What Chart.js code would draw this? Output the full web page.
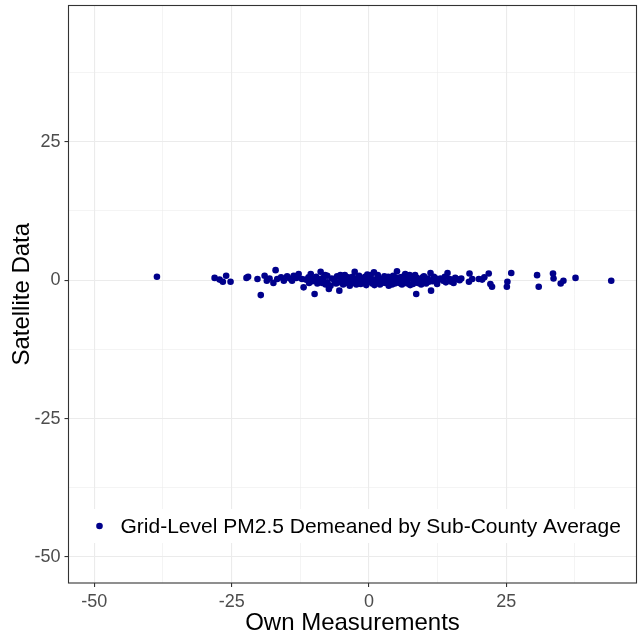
<!DOCTYPE html>
<html>
<head>
<meta charset="utf-8">
<script src="https://cdn.jsdelivr.net/npm/chart.js@4.4.1/dist/chart.umd.min.js"></script>
<style>
  html, body { margin: 0; padding: 0; background: #ffffff; }
  #wrap { width: 642px; height: 640px; }
</style>
</head>
<body>
<div id="wrap"><canvas id="scatterChart" width="642" height="640"></canvas></div>
<script>
// Own measurements (x) and satellite data (y), both demeaned
const ownMeasurements = [
  -38.6, -28.1, -27.2, -26.6, -26.0, -25.2, -22.3, -22.0, -20.3, -19.7,
  -19.0, -18.6, -18.1, -17.4, -17.0, -16.7, -16.0, -15.5, -14.9, -14.4,
  -14.0, -13.7, -12.8, -13.2, -11.9, -11.5, -10.9, -10.6, -10.1, -9.9,
  -9.6, -9.2, -8.8, -8.8, -8.5, -8.0, -7.6, -7.6, -7.3, -7.0,
  -6.8, -6.4, -6.0, -5.8, -5.5, -5.4, -5.0, -4.7, -4.4, -4.1,
  -3.8, -3.5, -3.2, -2.9, -2.6, -2.4, -2.1, -1.8, -1.5, -1.3,
  -1.0, -0.7, -0.5, -0.2, 0.1, 0.3, 0.6, 0.9, 1.1, 1.4,
  1.7, 2.0, 2.2, 2.5, 2.8, 3.0, 3.3, 3.6, 3.9, 4.1,
  4.4, 4.7, 5.0, 5.1, 5.4, 5.7, 6.0, 6.3, 6.6, 6.9,
  7.2, 7.5, 7.8, 8.1, 8.4, 8.6, 8.9, 9.2, 9.5, 9.8,
  10.1, 10.4, 10.7, 11.2, 11.3, 11.6, 12.0, 12.4, 13.0, 13.5,
  14.3, 14.7, 15.0, 15.4, 15.7, 16.0, 16.5, 18.3, 18.2, 18.8,
  20.0, 20.6, 21.0, 21.8, 22.1, 22.4, 25.1, 25.2, 25.9, 30.6,
  30.9, 33.5, 33.6, 34.9, 35.4, 37.6, 44.1,
  -6.2, -5.2, -4.5, -3.9, -3.0, -2.3, -1.6, -0.9, -0.3, 0.4,
  1.0, 1.6, 2.3, 2.9, 3.5, 4.2, 4.8, 5.5, 6.1, 6.7,
  7.4, 8.0, 8.7, 9.3, 10.0, 10.9, 11.8, 12.6, 7.0, 3.8,
  -0.6, -2.7, 1.9, 5.9, 9.0, -12.2, -11.0, -10.3, -9.4, -8.3,
  -7.9, 13.8, 14.0, 16.8
];
const satelliteData = [
  0.6, 0.4, 0.1, -0.3, 0.8, -0.3, 0.4, 0.6, 0.2, -2.7,
  0.8, -0.1, 0.3, -0.5, 1.8, 0.2, 0.5, -0.1, 0.7, 0.3,
  -0.1, 0.8, 1.1, 0.4, -1.3, 0.1, -0.5, 1.1, 0.2, -2.5,
  0.6, -0.2, 1.5, 0.2, -0.5, 0.9, -0.4, 0.8, -1.6, -1.0,
  0.3, 0.2, -0.6, 0.7, -0.4, -1.9, 0.3, -0.8, 0.9, -0.2,
  0.5, -1.0, 0.1, -0.5, 1.5, 0.3, -0.3, 0.8, -0.7, 0.2,
  -0.1, 0.6, -0.9, 0.3, -0.3, 0.9, -0.6, 1.4, 0.1, -0.4,
  0.5, -0.8, 0.2, -0.2, 0.7, -0.5, 0.1, -1.0, 0.4, -0.3,
  0.8, -0.6, 0.2, 1.6, -0.2, 0.5, -0.8, 0.1, 1.1, -0.4,
  0.3, -0.9, 0.6, -0.2, 0.9, -2.5, -0.5, 0.2, -0.8, 0.5,
  -0.1, -0.6, 0.3, 1.3, -1.9, -0.2, 0.4, -0.7, 0.3, -0.1,
  1.3, 0.2, -0.3, -0.5, 0.4, 0.2, 0.0, 1.2, -0.3, 0.2,
  0.2, 0.1, 0.5, 1.2, -0.7, -1.2, -1.2, -0.3, 1.3, 0.9,
  -1.2, 1.2, 0.3, -0.6, -0.1, 0.4, -0.1,
  -0.2, 0.9, -0.1, -0.5, 0.6, -0.8, 0.4, -0.3, 1.0, 0.2,
  -0.9, 0.9, -0.5, 0.3, 0.6, -0.8, 0.5, -0.5, 0.6, -0.1,
  0.9, -0.7, 0.4, -0.3, 0.7, -0.3, 0.6, 0.1, -0.6, -0.2,
  0.0, -0.1, 0.0, 0.0, 0.0, 0.2, 0.5, -0.2, -0.6, 0.4,
  -0.8, 0.6, -0.4, 0.3
];

const majorTicks = [-50, -25, 0, 25];
const minorTicks = [-37.5, -12.5, 12.5, 37.5];
const xRange = [-54.7, 48.7];
const yRange = [-54.7, 49.6];

const seriesLabel = 'Grid-Level PM2.5 Demeaned by Sub-County Average';
const xTitle = 'Own Measurements';
const yTitle = 'Satellite Data';

const pointColor = '#00008B';
const fontFamily = '"Liberation Sans", Arial, Helvetica, sans-serif';

const points = ownMeasurements.map((x, i) => ({ x: x, y: satelliteData[i] }));

function isMajor(v) {
  return majorTicks.indexOf(v) !== -1;
}

function setTicks(scale) {
  scale.ticks = majorTicks.concat(minorTicks)
    .sort((a, b) => a - b)
    .map(v => ({ value: v }));
}

function axisOptions(range, title, isX) {
  return {
    type: 'linear',
    min: range[0],
    max: range[1],
    afterBuildTicks: setTicks,
    afterFit: function(scale) {
      // fixed axis sizes, no extra padding for edge labels
      if (isX) scale.height = 57;
      else scale.width = 68.5;
      scale.paddingTop = 0;
      scale.paddingBottom = 0;
      scale.paddingLeft = 0;
      scale.paddingRight = 0;
    },
    grid: {
      color: '#ebebeb',
      lineWidth: ctx => isMajor(ctx.tick.value) ? 1.1 : 0.55,
      tickColor: ctx => isMajor(ctx.tick.value) ? '#333333' : 'rgba(0,0,0,0)',
      tickLength: 4,
      tickWidth: 1.1
    },
    border: { display: false },
    ticks: {
      autoSkip: false,
      maxRotation: 0,
      padding: 4,
      color: '#4d4d4d',
      font: { family: fontFamily, size: 18 },
      callback: v => isMajor(v) ? String(v) : ''
    },
    title: {
      display: true,
      text: title,
      color: '#000000',
      font: { family: fontFamily, size: 24 },
      padding: isX ? { top: 0, bottom: 2 } : { top: 8, bottom: 0 }
    }
  };
}

// panel border + legend drawn inside the panel, ggplot style
const panelPlugin = {
  id: 'panelPlugin',
  afterDraw: function(chart) {
    const ctx = chart.ctx;
    const area = chart.chartArea;
    ctx.save();
    ctx.strokeStyle = '#333333';
    ctx.lineWidth = 1.1;
    ctx.strokeRect(area.left, area.top, area.right - area.left, area.bottom - area.top);

    // legend box
    const boxTop = area.bottom - 74;
    const boxH = 34;
    ctx.fillStyle = '#ffffff';
    ctx.fillRect(area.left + 16, boxTop, area.right - area.left - 22, boxH);
    const cy = boxTop + boxH / 2;
    ctx.fillStyle = pointColor;
    ctx.beginPath();
    ctx.arc(area.left + 31, cy, 3.3, 0, Math.PI * 2);
    ctx.fill();
    ctx.fillStyle = '#000000';
    ctx.font = '21px ' + fontFamily;
    ctx.textBaseline = 'middle';
    ctx.textAlign = 'left';
    ctx.fillText(seriesLabel, area.left + 52, cy + 1);
    ctx.restore();
  }
};

const ctx = document.getElementById('scatterChart').getContext('2d');
const chart = new Chart(ctx, {
  type: 'scatter',
  data: {
    datasets: [{
      label: seriesLabel,
      data: points,
      backgroundColor: pointColor,
      borderColor: pointColor,
      borderWidth: 0,
      pointRadius: 3.3,
      pointHoverRadius: 3.3
    }]
  },
  options: {
    responsive: false,
    animation: false,
    devicePixelRatio: 1,
    layout: { padding: { top: 5.5, right: 5.5, left: 0, bottom: 0 } },
    plugins: {
      legend: { display: false },
      tooltip: { enabled: false }
    },
    scales: {
      x: axisOptions(xRange, xTitle, true),
      y: axisOptions(yRange, yTitle, false)
    }
  },
  plugins: [panelPlugin]
});
</script>
</body>
</html>
